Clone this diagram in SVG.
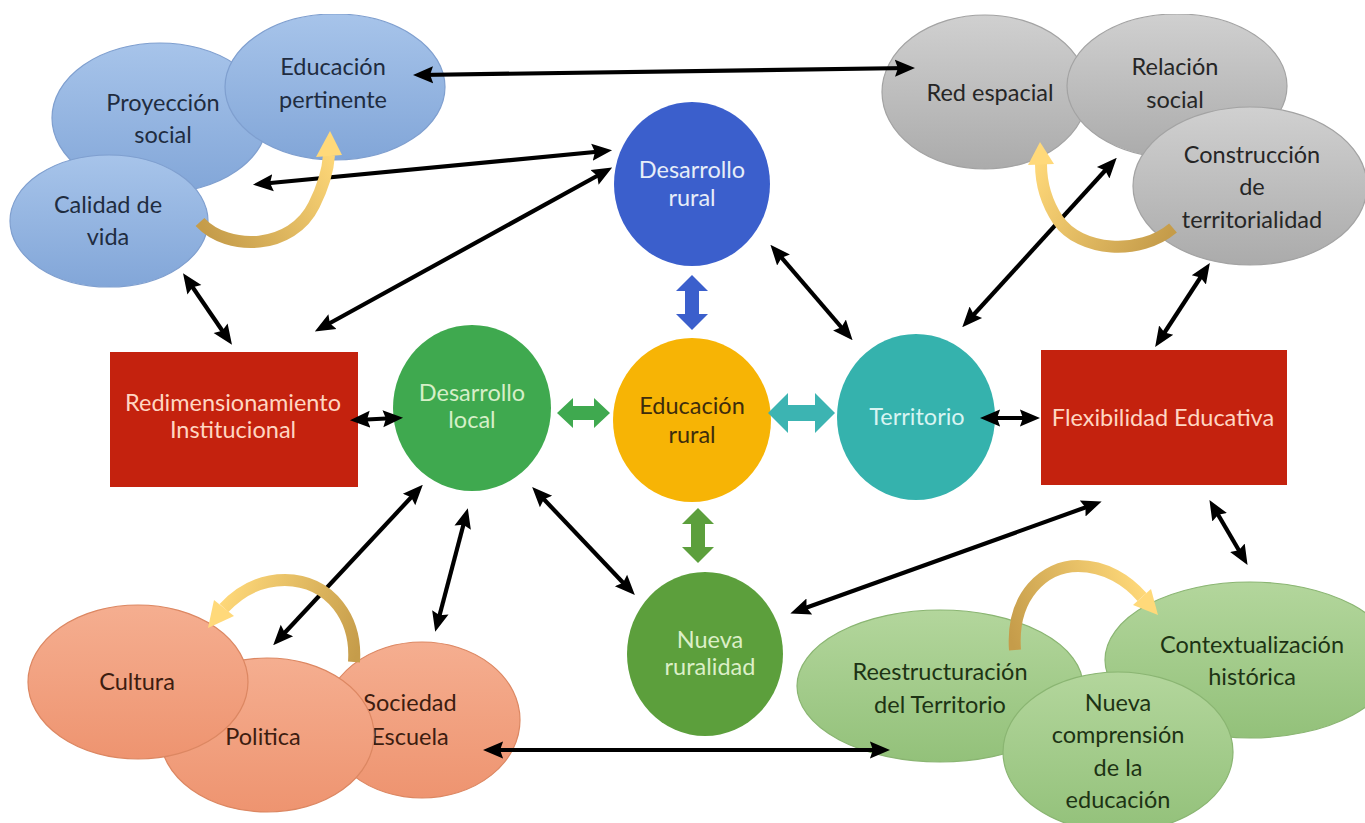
<svg xmlns="http://www.w3.org/2000/svg" width="1365" height="823" viewBox="0 0 1365 823">
<defs>
<style>
text{font-family:Lato,"Open Sans","Liberation Sans",sans-serif;font-size:23.5px;text-anchor:middle}
.blue{fill:url(#gBlue);stroke:#7f9fcf;stroke-width:1.2}
.gray{fill:url(#gGray);stroke:#a3a3a3;stroke-width:1.2}
.orng{fill:url(#gOrng);stroke:#dc8762;stroke-width:1.2}
.grn{fill:url(#gGrn);stroke:#8ab572;stroke-width:1.2}
.tb{fill:#1f2c40}.tg{fill:#262626}.to{fill:#3d1d10}.tgr{fill:#1d3314}
.conn{stroke:#000;stroke-width:4.2;fill:none;marker-start:url(#ah);marker-end:url(#ah)}
.curve{fill:none;stroke-width:12}
</style>
<linearGradient id="gBlue" x1="0" y1="0" x2="0" y2="1"><stop offset="0" stop-color="#a7c4ea"/><stop offset="1" stop-color="#82a6d8"/></linearGradient>
<linearGradient id="gGray" x1="0" y1="0" x2="0" y2="1"><stop offset="0" stop-color="#d0d0d0"/><stop offset="1" stop-color="#ababab"/></linearGradient>
<linearGradient id="gOrng" x1="0" y1="0" x2="0" y2="1"><stop offset="0" stop-color="#f5ae90"/><stop offset="1" stop-color="#ee9470"/></linearGradient>
<linearGradient id="gGrn" x1="0" y1="0" x2="0" y2="1"><stop offset="0" stop-color="#b3d69c"/><stop offset="1" stop-color="#93c17a"/></linearGradient>
<linearGradient id="y1" gradientUnits="userSpaceOnUse" x1="200" y1="222" x2="330" y2="140"><stop offset="0" stop-color="#c59c4a"/><stop offset="1" stop-color="#ffd97a"/></linearGradient>
<linearGradient id="y2" gradientUnits="userSpaceOnUse" x1="1173" y1="228" x2="1041" y2="150"><stop offset="0" stop-color="#c59c4a"/><stop offset="1" stop-color="#ffd97a"/></linearGradient>
<linearGradient id="y3" gradientUnits="userSpaceOnUse" x1="354" y1="662" x2="215" y2="610"><stop offset="0" stop-color="#c59c4a"/><stop offset="1" stop-color="#ffd97a"/></linearGradient>
<linearGradient id="y4" gradientUnits="userSpaceOnUse" x1="1015" y1="650" x2="1150" y2="600"><stop offset="0" stop-color="#c59c4a"/><stop offset="1" stop-color="#ffd97a"/></linearGradient>
<marker id="ah" viewBox="0 0 10 10" refX="6.5" refY="5" markerWidth="4.8" markerHeight="4.8" orient="auto-start-reverse" markerUnits="strokeWidth"><path d="M0,0.8 L10,5 L0,9.2 L1.5,5 z" fill="#000"/></marker>
<clipPath id="topclip"><rect x="0" y="14" width="1365" height="809"/></clipPath>
</defs>
<rect width="1365" height="823" fill="#fff"/>

<g id="cluster-top-left" clip-path="url(#topclip)">
<g id="proyeccion-social"><ellipse class="blue" cx="160" cy="118" rx="108" ry="75"/><text class="tb" x="163" y="111">Proyección</text><text class="tb" x="163" y="143">social</text></g>
<g id="educacion-pertinente"><ellipse class="blue" cx="335" cy="87" rx="110" ry="73"/><text class="tb" x="333" y="75">Educación</text><text class="tb" x="333" y="108">pertinente</text></g>
<g id="calidad-de-vida"><ellipse class="blue" cx="109" cy="221" rx="99" ry="66"/><text class="tb" x="108" y="213">Calidad de</text><text class="tb" x="108" y="245">vida</text></g>
</g>

<g id="cluster-top-right" clip-path="url(#topclip)">
<g id="red-espacial"><ellipse class="gray" cx="985" cy="92" rx="103" ry="77"/><text class="tg" x="990" y="101">Red espacial</text></g>
<g id="relacion-social"><ellipse class="gray" cx="1177" cy="86" rx="110" ry="72"/><text class="tg" x="1175" y="75">Relación</text><text class="tg" x="1175" y="108">social</text></g>
<g id="construccion-territorialidad"><ellipse class="gray" cx="1250" cy="186" rx="117" ry="79"/><text class="tg" x="1252" y="163">Construcción</text><text class="tg" x="1252" y="195">de</text><text class="tg" x="1252" y="228">territorialidad</text></g>
</g>

<g id="cluster-bottom-left">
<g id="sociedad-escuela"><ellipse class="orng" cx="422" cy="720" rx="98" ry="78"/><text class="to" x="410" y="711">Sociedad</text><text class="to" x="410" y="745">Escuela</text></g>
<g id="politica"><ellipse class="orng" cx="267" cy="735" rx="107" ry="77"/><text class="to" x="263" y="745">Politica</text></g>
<g id="cultura"><ellipse class="orng" cx="138" cy="682" rx="110" ry="77"/><text class="to" x="137" y="690">Cultura</text></g>
</g>

<g id="cluster-bottom-right">
<g id="reestructuracion"><ellipse class="grn" cx="940" cy="686" rx="143" ry="76"/><text class="tgr" x="940" y="680">Reestructuración</text><text class="tgr" x="940" y="713">del Territorio</text></g>
<g id="contextualizacion"><ellipse class="grn" cx="1250" cy="660" rx="145" ry="78"/><text class="tgr" x="1252" y="653">Contextualización</text><text class="tgr" x="1252" y="685">histórica</text></g>
<g id="nueva-comprension"><ellipse class="grn" cx="1118" cy="752" rx="115" ry="80"/><text class="tgr" x="1118" y="711">Nueva</text><text class="tgr" x="1118" y="743">comprensión</text><text class="tgr" x="1118" y="776">de la</text><text class="tgr" x="1118" y="808">educación</text></g>
</g>

<g id="desarrollo-rural"><ellipse cx="692" cy="184" rx="78" ry="82" fill="#3b5fcc"/><text x="692" y="178" fill="#e6edf8">Desarrollo</text><text x="692" y="206" fill="#e6edf8">rural</text></g>
<g id="desarrollo-local"><ellipse cx="472" cy="408" rx="79" ry="83" fill="#3fa94f"/><text x="472" y="401" fill="#d6efc8">Desarrollo</text><text x="472" y="428" fill="#d6efc8">local</text></g>
<g id="educacion-rural"><ellipse cx="692" cy="420" rx="79" ry="82" fill="#f7b405"/><text x="692" y="414" fill="#3e2c0c">Educación</text><text x="692" y="443" fill="#3e2c0c">rural</text></g>
<g id="territorio"><ellipse cx="916" cy="417" rx="79" ry="83" fill="#35b2ad"/><text x="917" y="425" fill="#d8f4f2">Territorio</text></g>
<g id="nueva-ruralidad"><ellipse cx="705" cy="654" rx="78" ry="82" fill="#5c9f3c"/><text x="710" y="648" fill="#dcefc8">Nueva</text><text x="710" y="675" fill="#dcefc8">ruralidad</text></g>
<g id="redimensionamiento"><rect x="110" y="352" width="248" height="135" fill="#c4220e"/><text x="233" y="411" fill="#ffd6c2">Redimensionamiento</text><text x="233" y="438" fill="#ffd6c2">Institucional</text></g>
<g id="flexibilidad"><rect x="1041" y="350" width="246" height="135" fill="#c4220e"/><text x="1163" y="426" fill="#ffd6c2">Flexibilidad Educativa</text></g>

<g id="connectors">
<path class="conn" d="M420,75 L908,68"/>
<path class="conn" d="M260,184 L605,151"/>
<path class="conn" d="M321,328 L606,171"/>
<path class="conn" d="M187,279 L228,339"/>
<path class="conn" d="M357,420 L396,418"/>
<path class="conn" d="M418,490 L278,640"/>
<path class="conn" d="M466,515 L437,625"/>
<path class="conn" d="M537,492 L630,590"/>
<path class="conn" d="M775,250 L848,335"/>
<path class="conn" d="M967,322 L1112,163"/>
<path class="conn" d="M1159,341 L1206,269"/>
<path class="conn" d="M987,418 L1033,418"/>
<path class="conn" d="M1095,504 L797,611"/>
<path class="conn" d="M1213,506 L1244,559"/>
<path class="conn" d="M490,750 L883,750"/>
<polygon fill="#3b5fcc" points="692,275 708,291 699,291 699,314 708,314 692,330 676,314 685,314 685,291 676,291"/>
<polygon fill="#5c9f3c" points="698,508 714,524 705,524 705,547 714,547 698,563 682,547 691,547 691,524 682,524"/>
<polygon fill="#3fa94f" points="557,413 573,398 573,406 594,406 594,398 610,413 594,428 594,420 573,420 573,428"/>
<polygon fill="#3cb4b2" points="768,413 788,393 788,405 815,405 815,393 835,413 815,433 815,421 788,421 788,433"/>
<path class="curve" stroke="url(#y1)" d="M200,222 C228,252 292,250 314,205 C324,185 328,170 329,155"/>
<polygon fill="#ffd97a" points="316,157 342,155 330,131"/>
<path class="curve" stroke="url(#y2)" d="M1173,228 C1140,256 1080,252 1058,220 C1046,202 1041,182 1041,164"/>
<polygon fill="#ffd97a" points="1028,165 1054,164 1040,142"/>
<path class="curve" stroke="url(#y3)" d="M354,662 C357,620 332,581 285,580 C258,580 238,593 224,608"/>
<polygon fill="#ffd97a" points="234,616 214,600 208,628"/>
<path class="curve" stroke="url(#y4)" d="M1015,650 C1011,595 1045,566 1078,566 C1106,566 1128,581 1142,597"/>
<polygon fill="#ffd97a" points="1151,589 1133,605 1158,615"/>
</g>
</svg>
